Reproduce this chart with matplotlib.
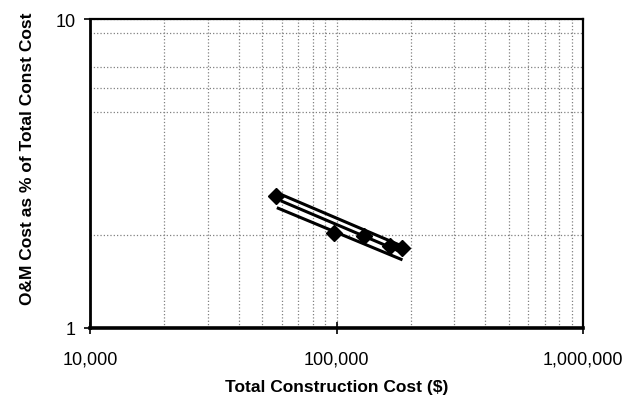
import numpy as np
import matplotlib
matplotlib.use("Agg")
import matplotlib.pyplot as plt
from matplotlib.ticker import FixedLocator, FuncFormatter, NullFormatter

plt.rcParams['font.family'] = ['Liberation Sans', 'DejaVu Sans']

# observed projects
total_cost = [57000, 98000, 129000, 165000, 185000]
om_pct = [2.67, 2.03, 1.99, 1.84, 1.82]

# trend line and its two bounds (end points)
upper_x = [57200, 195000]
upper_y = [2.74, 1.805]
fit_x = [59300, 181500]
fit_y = [2.58, 1.765]
lower_x = [57200, 185000]
lower_y = [2.45, 1.66]

x_major = [1e4, 1e5, 1e6]
x_minor = [m * d for d in (1e4, 1e5) for m in range(2, 10)]
y_major = [1, 10]
y_minor = [2, 5, 6, 7, 9]   # only these show up on the original

fig = plt.figure(figsize=(6.31, 4.02), dpi=100)
ax = fig.add_axes([0.143, 0.182, 0.781, 0.768])

ax.set_xscale('log')
ax.set_yscale('log')
ax.set_xlim(1e4, 1e6)
ax.set_ylim(1, 10)

ax.plot(upper_x, upper_y, color='black', lw=2.2, solid_capstyle='butt')
ax.plot(fit_x, fit_y, color='black', lw=2.2, solid_capstyle='butt')
ax.plot(lower_x, lower_y, color='black', lw=2.2, solid_capstyle='butt')
ax.plot(total_cost, om_pct, linestyle='none', marker='D', markersize=8,
        color='black', zorder=5)

ax.xaxis.set_major_locator(FixedLocator(x_major))
ax.xaxis.set_minor_locator(FixedLocator(x_minor))
ax.yaxis.set_major_locator(FixedLocator(y_major))
ax.yaxis.set_minor_locator(FixedLocator(y_minor))
ax.xaxis.set_major_formatter(FuncFormatter(lambda v, p: f"{v:,.0f}"))
ax.yaxis.set_major_formatter(FuncFormatter(lambda v, p: f"{v:.0f}"))
ax.xaxis.set_minor_formatter(NullFormatter())
ax.yaxis.set_minor_formatter(NullFormatter())

ax.grid(True, which='both', color='#808080', linestyle=':', linewidth=0.9)
ax.set_axisbelow(True)

ax.tick_params(which='major', direction='inout', length=9, width=1.2,
               labelsize=13)
ax.tick_params(axis='x', which='major', pad=12)
ax.tick_params(axis='y', which='major', pad=6)
ax.tick_params(which='minor', length=0)

for side in ['top', 'right']:
    ax.spines[side].set_linewidth(1.6)
ax.spines['left'].set_linewidth(2.0)
ax.spines['bottom'].set_linewidth(2.6)

ax.set_xlabel("Total Construction Cost ($)", fontsize=12.5, fontweight='bold')
ax.xaxis.set_label_coords(0.5, -0.165)
ax.set_ylabel("O&M Cost as % of Total Const Cost", fontsize=12.5,
              fontweight='bold')
ax.yaxis.set_label_coords(-0.112, 0.55)

fig.savefig("out.png", dpi=100)
